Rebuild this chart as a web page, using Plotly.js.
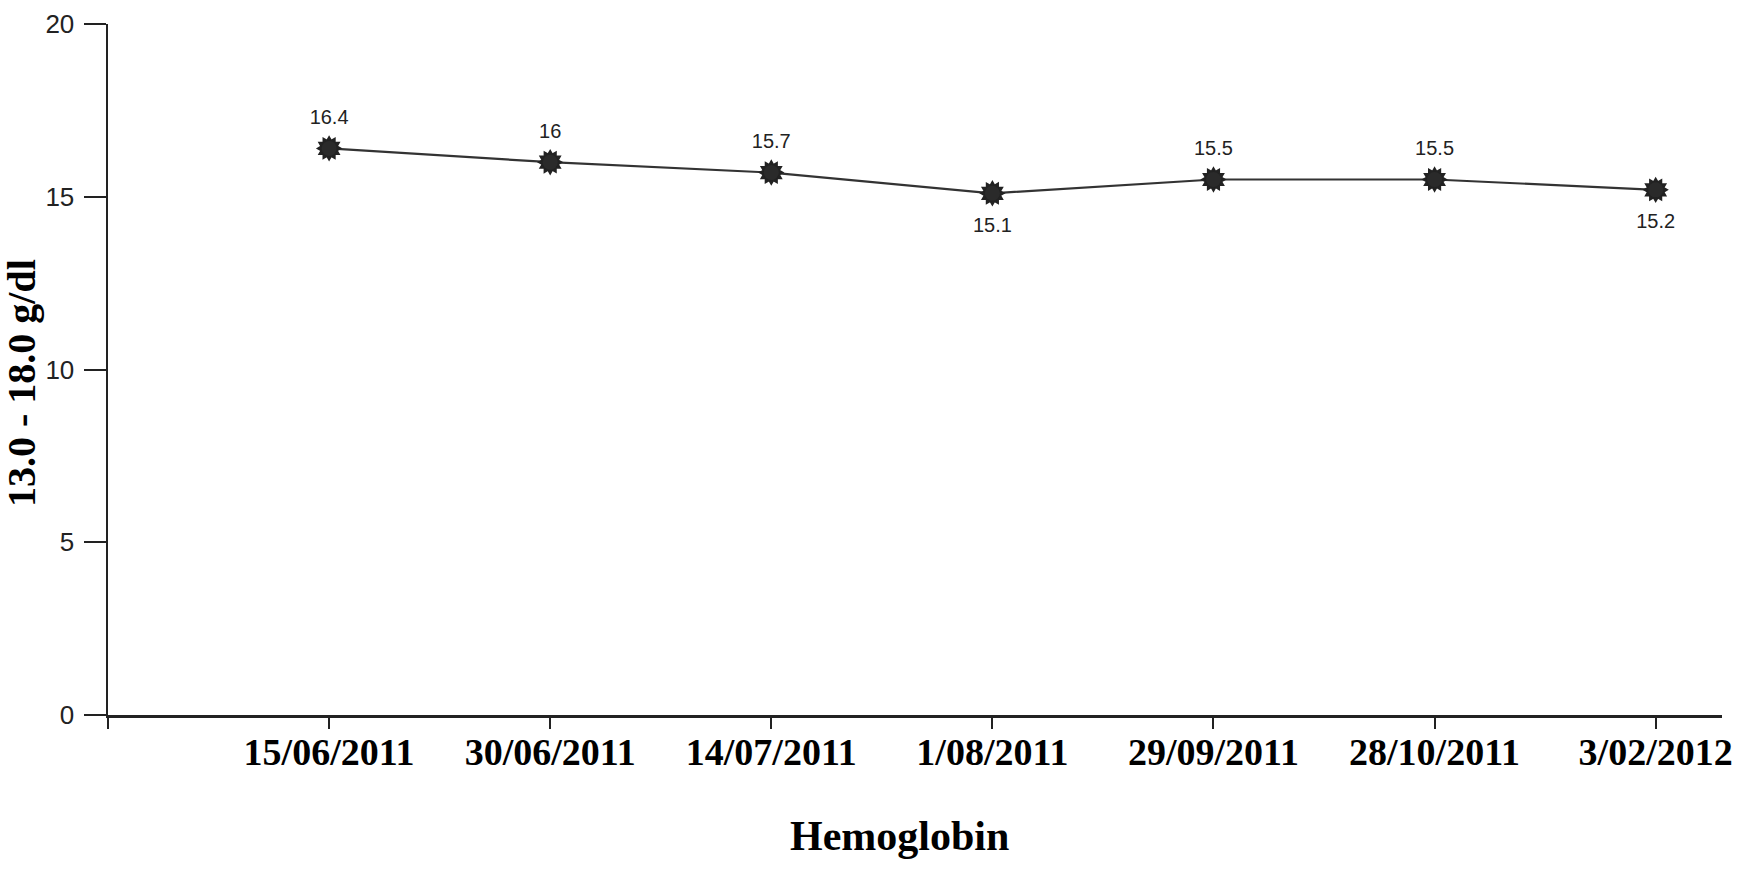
<!DOCTYPE html>
<html>
<head>
<meta charset="utf-8">
<script src="https://cdn.plot.ly/plotly-3.0.1.min.js"></script>
<style>html,body{margin:0;padding:0;background:#fff;}#chart{width:1738px;height:875px;}</style>
</head>
<body>
<div id="chart"></div>
<script>
const dates = ['15/06/2011','30/06/2011','14/07/2011','1/08/2011','29/09/2011','28/10/2011','3/02/2012'];
const hemoglobin = [16.4, 16, 15.7, 15.1, 15.5, 15.5, 15.2];
const labelPositions = ['top center','top center','top center','bottom center','top center','top center','bottom center'];
const yTicks = [0, 5, 10, 15, 20];
const xTitle = 'Hemoglobin';
const yTitle = '13.0 - 18.0 g/dl';

const xIdx = dates.map((d, i) => i);
const labelGap = labelPositions.map(p => p.indexOf('top') === 0 ? 29 : 36);

const traces = [
  {
    x: xIdx, y: hemoglobin, type: 'scatter', mode: 'lines+markers',
    line: {color: '#333', width: 2.2},
    marker: {symbol: 'hexagram', size: 20, color: '#222', line: {width: 0}},
    hoverinfo: 'x+y', showlegend: false
  },
  {
    x: xIdx, y: hemoglobin, type: 'scatter', mode: 'markers',
    marker: {symbol: 'hexagram', size: 20, angle: 30, color: '#222', line: {width: 0}},
    hoverinfo: 'skip', showlegend: false
  },
  {
    x: xIdx, y: hemoglobin, type: 'scatter', mode: 'markers',
    marker: {symbol: 'circle', size: 15, color: '#2a2a2a', line: {width: 0}},
    hoverinfo: 'skip', showlegend: false
  },
  {
    x: xIdx, y: hemoglobin, type: 'scatter', mode: 'markers+text',
    text: hemoglobin.map(v => String(v)), textposition: labelPositions,
    textfont: {family: 'Liberation Sans, Arial, sans-serif', size: 20, color: '#222'},
    marker: {symbol: 'circle', size: labelGap, opacity: 0},
    hoverinfo: 'skip', showlegend: false
  }
];

const layout = {
  width: 1738, height: 875,
  margin: {l: 108, r: 16, t: 24, b: 160},
  paper_bgcolor: '#fff', plot_bgcolor: '#fff',
  showlegend: false,
  xaxis: {
    range: [-1, 6.3], showgrid: false, zeroline: false,
    showline: true, linecolor: '#222', linewidth: 2.5,
    ticks: 'outside', ticklen: 11, tickwidth: 2, tickcolor: '#222',
    tickmode: 'array', tickvals: [-1].concat(xIdx), ticktext: [''].concat(dates),
    tickfont: {family: 'Liberation Serif, Times New Roman, serif', size: 38, color: '#000', weight: 'bold'},
    ticklabelstandoff: -9
  },
  yaxis: {
    range: [0, 20], showgrid: false, zeroline: false,
    showline: true, linecolor: '#222', linewidth: 2.5,
    ticks: 'outside', ticklen: 22, tickwidth: 2, tickcolor: '#222',
    tickmode: 'array', tickvals: yTicks, ticktext: yTicks.map(String),
    tickfont: {family: 'Liberation Sans, Arial, sans-serif', size: 26, color: '#222'},
    ticklabelstandoff: 4
  },
  annotations: [
    {text: '<b>' + xTitle + '</b>', xref: 'paper', yref: 'paper', x: 0.4907, y: -0.175,
     xanchor: 'center', yanchor: 'middle', showarrow: false,
     font: {family: 'Liberation Serif, Times New Roman, serif', size: 42, color: '#000'}},
    {text: '<b>' + yTitle + '</b>', xref: 'paper', yref: 'paper', x: -0.0535, y: 0.480,
     xanchor: 'center', yanchor: 'middle', textangle: -90, showarrow: false,
     font: {family: 'Liberation Serif, Times New Roman, serif', size: 40, color: '#000'}}
  ]
};

Plotly.newPlot('chart', traces, layout, {displayModeBar: false, staticPlot: true});
</script>
</body>
</html>
